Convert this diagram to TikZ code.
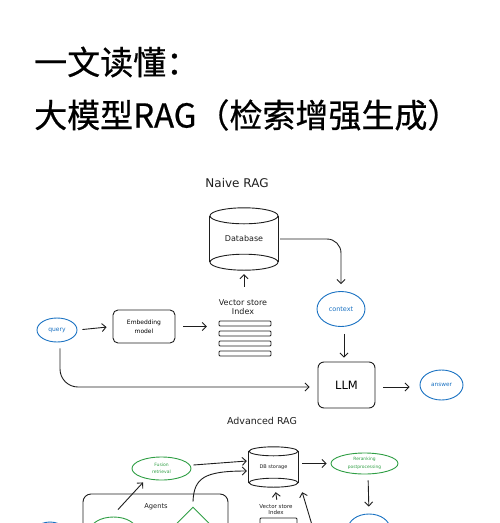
\documentclass[tikz,border=0pt]{standalone}
\usepackage{fontspec}
\setmainfont{DejaVu Sans}
\newfontfamily\cjk[FakeBold=0.6]{Noto Sans CJK SC}
\usetikzlibrary{arrows.meta,shapes.geometric}
\definecolor{ink}{HTML}{1E1E1E}
\definecolor{blu}{HTML}{1971C2}
\definecolor{grn}{HTML}{2F9E44}
\tikzset{
  ln/.style={draw=ink, line width=0.9pt},
  arr/.style={ln, -{Straight Barb[length=4pt,width=8pt]}},
  bell/.style={ellipse, draw=blu, line width=0.9pt, text=blu, inner sep=0pt, align=center},
  gell/.style={ellipse, draw=grn, line width=0.9pt, text=grn, inner sep=0pt, align=center},
  rbox/.style={rectangle, rounded corners=5pt, ln, inner sep=0pt, align=center},
  txt/.style={text=ink, inner sep=0pt, align=center},
  bar/.style={ln, rounded corners=1pt}
}
\begin{document}
\begin{tikzpicture}[x=1pt,y=-1pt]
\useasboundingbox (0,0) rectangle (500,523);
\clip (0,0) rectangle (500,523);
% titles
\node[anchor=west, inner sep=0pt, font=\cjk\fontsize{33}{36}\selectfont] (t1) at (34,62) {一文读懂：};
\node[anchor=west, inner sep=0pt, font=\cjk\fontsize{33}{36}\selectfont] (t2) at (34,115) {大模型RAG（检索增强生成）};
% ---------- Naive RAG ----------
\node[txt, font=\fontsize{12}{14}\selectfont] (naive) at (237,183) {Naive RAG};
% database cylinder
\node[txt, minimum width=68pt, minimum height=62pt, font=\fontsize{8}{9}\selectfont] (db) at (244,239) {Database};
\draw[ln] ([yshift=-8pt]db.north) ellipse [x radius=34pt, y radius=8pt];
\draw[ln] ([yshift=8pt]db.south) ellipse [x radius=34pt, y radius=8pt];
\draw[ln] ([yshift=-8pt]db.north west) -- ([yshift=8pt]db.south west);
\draw[ln] ([yshift=-8pt]db.north east) -- ([yshift=8pt]db.south east);
% vector store
\node[txt, font=\fontsize{8}{9}\selectfont] (vsl) at (243,307.5) {Vector store\\Index};
\node[inner sep=0pt, minimum width=54pt, minimum height=58pt] (vsi) at (244,327) {};
\draw[bar] (219,321) rectangle (271,326);
\draw[bar] (219,331) rectangle (271,336);
\draw[bar] (219,341) rectangle (271,346);
\draw[bar] (219,351) rectangle (271,356);
% query, embedding
\node[bell, minimum width=40pt, minimum height=24pt, font=\fontsize{6}{7}\selectfont] (q) at (57,330) {query};
\node[rbox, minimum width=62pt, minimum height=33pt, font=\fontsize{6}{9}\selectfont] (emb) at (144,326.5) {Embedding\\model};
% context, LLM, answer
\node[bell, minimum width=48pt, minimum height=35pt, font=\fontsize{6.5}{7}\selectfont] (ctx) at (341,309) {context};
\node[rbox, rounded corners=6pt, minimum width=57pt, minimum height=46pt, font=\fontsize{11.5}{13}\selectfont] (llm) at (346.5,385) {LLM};
\node[bell, minimum width=43pt, minimum height=30pt, font=\fontsize{5.8}{7}\selectfont] (ans) at (441.5,385) {answer};
% connectors
\draw[arr, shorten <=5pt, shorten >=6pt] (q.east) -- (emb.west);
\draw[arr, shorten <=8pt, shorten >=10pt] (emb.east) -- (vsi.west |- emb.east);
\draw[arr, shorten <=11pt, shorten >=4pt] (vsi.north) -- (db.south);
\draw[arr, rounded corners=14pt, shorten >=7pt] ([xshift=2pt]db.east) -| (ctx.north);
\draw[arr, shorten <=7pt, shorten >=4pt] ([xshift=3pt]ctx.south) -- ([xshift=-2.5pt]llm.north);
\draw[arr, rounded corners=18pt, shorten <=6pt, shorten >=8pt] ([xshift=3pt]q.south) |- ([yshift=-2pt]llm.west);
\draw[arr, shorten <=8pt, shorten >=10pt] ([yshift=-2pt]llm.east) -- ([yshift=-2pt]ans.west);
% ---------- Advanced RAG ----------
\node[txt, font=\fontsize{9.5}{11}\selectfont] (adv) at (262,421) {Advanced RAG};
\node[txt, minimum width=49pt, minimum height=40pt, font=\fontsize{5}{6}\selectfont] (dbs) at (273.5,467) {DB storage};
\draw[ln] ([yshift=-4.5pt]dbs.north) ellipse [x radius=24.5pt, y radius=4.5pt];
\draw[ln] ([yshift=4.5pt]dbs.south) ellipse [x radius=24.5pt, y radius=4.5pt];
\draw[ln] ([yshift=-4.5pt]dbs.north west) -- ([yshift=4.5pt]dbs.south west);
\draw[ln] ([yshift=-4.5pt]dbs.north east) -- ([yshift=4.5pt]dbs.south east);
\node[gell, minimum width=59pt, minimum height=23pt, font=\fontsize{4.5}{7}\selectfont] (fus) at (161.5,468.5) {Fusion\\retrieval};
\node[gell, minimum width=67pt, minimum height=21pt, font=\fontsize{4.4}{8}\selectfont] (rr) at (364.5,463.5) {Reranking\\postprocessing};
\node[bell, minimum width=42pt, minimum height=30pt] (low) at (369,529) {};
\node[bell, minimum width=40pt, minimum height=36pt] (lq) at (50,540) {};
\node[rbox, rounded corners=8pt, minimum width=145pt, minimum height=66pt] (ag) at (155.5,527) {};
\node[txt, font=\fontsize{6.7}{8}\selectfont] (agl) at (156,507) {Agents};
\node[gell, minimum width=47pt, minimum height=28pt] (ae) at (113.5,531) {};
\node[diamond, draw=grn, line width=0.9pt, minimum width=52pt, minimum height=52pt, inner sep=0pt] (dia) at (193,533) {};
\node[txt, font=\fontsize{5.5}{6}\selectfont] (vs2) at (276,510) {Vector store\\Index};
\node[inner sep=0pt, minimum width=37pt, minimum height=8pt] (bar2) at (278.5,522) {};
\draw[bar] (260,518) rectangle (297,526);
\coordinate (dgs) at (318,545);
% connectors
\draw[arr] ([xshift=2pt,yshift=3.5pt]fus.east) -- ([xshift=-2pt,yshift=6pt]dbs.west);
\draw[arr] ([yshift=5pt]dia.north) .. controls (194,478) and (204,471) .. ([xshift=-2pt,yshift=-4pt]dbs.west);
\draw[arr, shorten <=4pt, shorten >=4pt] (dbs.east |- rr.west) -- (rr.west);
\draw[arr, shorten <=6pt, shorten >=7pt] ([xshift=3.5pt]rr.south) -- (low.north);
\draw[arr, shorten <=5pt, shorten >=5pt] ([xshift=1.5pt]vs2.north) -- ([xshift=1.5pt]dbs.south);
\draw[arr] (dgs) -- ([xshift=4pt,yshift=-5pt]dbs.south east);
\draw[arr] ([xshift=4.5pt,yshift=7pt]ae.north) -- ([xshift=-18.5pt,yshift=-2pt]fus.south);
\end{tikzpicture}
\end{document}
